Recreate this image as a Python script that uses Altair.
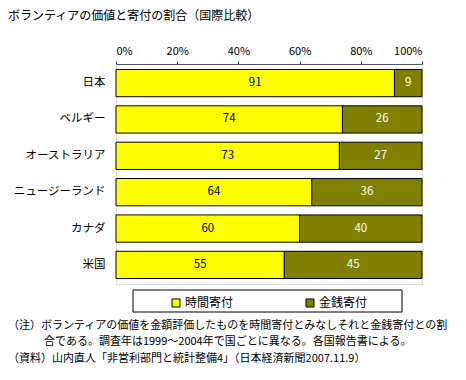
import altair as alt
import pandas as pd

countries = ["日本", "ベルギー", "オーストラリア", "ニュージーランド", "カナダ", "米国"]
time_vals = [91, 74, 73, 64, 60, 55]
money_vals = [9, 26, 27, 36, 40, 45]
series = ["時間寄付", "金銭寄付"]
colors = ["#FFFF00", "#808000"]
tick_vals = [0, 20, 40, 60, 80, 100]

title_text = "ボランティアの価値と寄付の割合（国際比較）"
note1 = "（注）ボランティアの価値を金額評価したものを時間寄付とみなしそれと金銭寄付との割"
note2 = "合である。調査年は1999～2004年で国ごとに異なる。各国報告書による。"
note3 = "（資料）山内直人「非営利部門と統計整備4」（日本経済新聞2007.11.9）"

FONT = "Noto Sans CJK JP"

rows = []
for c, t, m in zip(countries, time_vals, money_vals):
    rows.append({"country": c, "type": series[0], "start": 0, "end": t, "val": t})
    rows.append({"country": c, "type": series[1], "start": t, "end": t + m, "val": m})
df = pd.DataFrame(rows)
df["mid"] = (df["start"] + df["end"]) / 2

W, H = 306, 220

base = alt.Chart(df)

bars = base.mark_bar(stroke="#000000", strokeWidth=1).encode(
    y=alt.Y("country:N", sort=countries, title=None,
            scale=alt.Scale(paddingInner=0.25, paddingOuter=0.15),
            axis=alt.Axis(domain=False, ticks=False, labelPadding=11,
                          labelFontSize=11.5, labelColor="#000000", labelFont=FONT)),
    x=alt.X("start:Q", title=None,
            scale=alt.Scale(domain=[0, 100], nice=False),
            axis=alt.Axis(orient="top", values=tick_vals, labelExpr="datum.value + '%'",
                          tickSize=3, domainColor="#555555", tickColor="#333333",
                          grid=False, labelPadding=5, labelFontSize=11,
                          labelColor="#000000", labelFont=FONT)),
    x2="end:Q",
    color=alt.Color("type:N", scale=alt.Scale(domain=series, range=colors),
                    legend=alt.Legend(title=None, orient="none", direction="horizontal",
                                      legendX=54, legendY=233, symbolType="square",
                                      symbolSize=64, symbolStrokeColor="#000000",
                                      symbolStrokeWidth=1, labelFontSize=12,
                                      labelFont=FONT, labelColor="#000000",
                                      columnPadding=70, labelOffset=3, padding=0)),
)

labels = base.mark_text(fontSize=11.5, font=FONT).encode(
    y=alt.Y("country:N", sort=countries),
    x=alt.X("mid:Q"),
    text=alt.Text("val:Q"),
    color=alt.condition(alt.datum.type == series[0], alt.value("#000000"), alt.value("#FFFFFF")),
)

one = alt.Data(values=[{"a": 1}])

def txt(t, x, y, size):
    return alt.Chart(one).mark_text(align="left", baseline="middle", fontSize=size,
                                    font=FONT, color="#000000").encode(
        x=alt.value(x), y=alt.value(y), text=alt.value(t))

legend_box = alt.Chart(one).mark_rect(fill=None, stroke="#000000", strokeWidth=1).encode(
    x=alt.value(17), x2=alt.value(286), y=alt.value(226), y2=alt.value(248))

chart = alt.layer(
    bars, labels, legend_box,
    txt(note1, -108, 262, 11),
    txt(note2, -72, 278, 11),
    txt(note3, -108, 295, 11),
).properties(
    width=W, height=H,
    title=alt.TitleParams(title_text, anchor="start", frame="group", dx=-108,
                          offset=22, fontSize=12, font=FONT, fontWeight="normal",
                          color="#000000"),
    autosize=alt.AutoSizeParams(type="none"),
    padding={"left": 108, "top": 56, "right": 36, "bottom": 88},
).configure_view(stroke=None).configure(background="#FFFFFF")

chart.save("out.html", embed_options={"renderer": "svg", "actions": False})
